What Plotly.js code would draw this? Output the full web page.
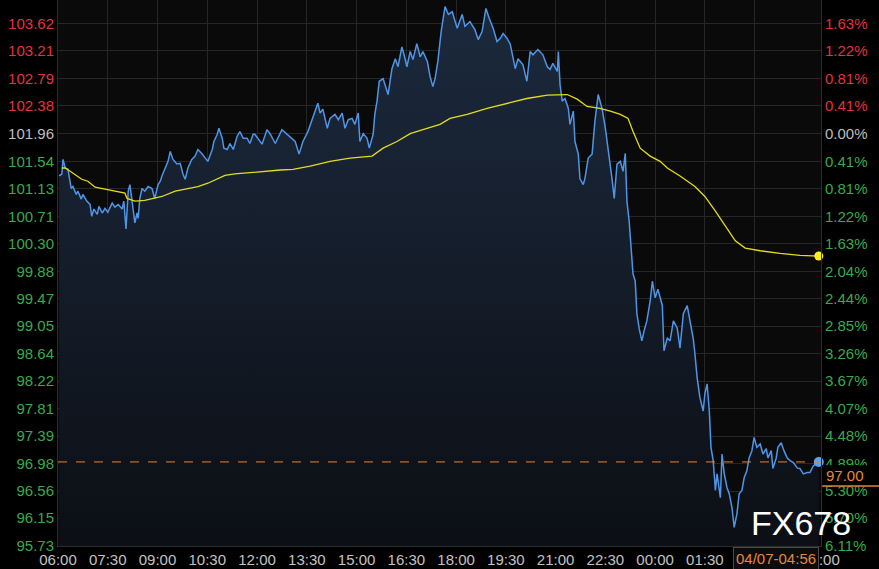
<!DOCTYPE html>
<html><head><meta charset="utf-8">
<script src="https://cdn.plot.ly/plotly-3.0.1.min.js"></script>
<style>html,body{margin:0;padding:0;background:#000;}#chart{width:879px;height:569px;}</style>
</head><body><div id="chart"></div>
<script>
// minutes elapsed since 06:00
const priceMinutes = [2,7,9,13,18,24,27,33,36,42,45,52,58,61,65,71,74,80,85,90,98,103,109,116,119,123,127,130,134,139,143,145,148,152,157,163,170,175,181,185,188,194,199,203,208,215,221,226,230,235,242,248,253,260,266,271,279,282,288,291,297,300,306,311,317,324,329,335,342,347,353,356,
369,378,384,393,405,414,423,429,436,443,452,461,470,474,479,487,492,501,507,514,519,525,532,537,543,546,552,559,563,570,573,577,581,588,593,597,604,610,615,622,626,631,637,642,649,655,660,668,673,678,682,687,693,696,700,
706,713,722,731,736,745,754,760,767,774,780,787,794,800,805,812,818,823,827,832,841,848,854,859,868,877,885,890,895,903,905,908,
912,917,923,926,932,935,941,944,950,953,959,966,971,977,984,990,995,1002,1006,1011,1017,1022,1026,1029,1033,1037,1040,1044,
1047,1051,1056,1060,1065,1071,1075,1080,1085,1093,1096,1102,1107,1113,1120,1125,1131,1138,1143,1149,1152,1156,1161,1167,1170,1174,1178,1181,1185,1189,1192,1198,1201,1205,1210,1214,1219,1223,1228,1232,1237,1241,1246,1250,1255,1259,1264,1270,1275,1281,1284,1290,1293,1299,1302,1308,1313,1319,1324,1330,1337,1342,1348,1355,1360,1366,1376];
const priceValues = [101.32,101.35,101.57,101.44,101.42,101.13,101.16,101.04,101.09,100.97,101.04,100.94,100.89,100.71,100.82,100.74,100.86,100.76,100.83,100.77,100.91,100.85,100.89,100.82,100.94,100.52,101.09,101.19,100.94,100.61,100.76,100.68,100.98,101.13,101.09,101.16,101.13,100.98,101.19,101.24,101.32,101.44,101.54,101.69,101.57,101.50,101.51,101.35,101.27,101.44,101.57,101.62,101.72,101.66,101.59,101.54,101.72,101.84,101.95,102.04,101.89,101.74,101.72,101.81,101.72,101.92,101.99,101.89,101.89,101.81,101.95,101.95,
101.80,102.02,101.95,101.81,102.02,101.95,101.89,101.84,101.65,101.84,101.99,102.19,102.42,102.27,102.33,102.04,102.19,102.25,102.17,102.27,102.04,102.17,102.19,102.10,102.27,101.84,101.96,101.89,101.74,101.95,102.25,102.45,102.75,102.79,102.64,102.55,102.94,103.09,102.97,103.27,103.15,102.97,103.20,103.08,103.32,103.12,103.20,103.05,102.82,102.67,102.79,103.05,103.50,103.70,103.88,
103.76,103.80,103.55,103.76,103.58,103.65,103.53,103.38,103.50,103.85,103.70,103.55,103.35,103.40,103.47,103.40,103.31,103.12,102.94,103.09,103.00,102.75,103.20,103.15,103.23,103.15,102.97,102.93,103.02,102.90,103.20,102.70,
102.45,102.49,102.34,102.10,102.30,101.84,101.65,101.28,101.19,101.28,101.59,101.65,102.14,102.55,102.34,102.04,101.74,101.28,100.98,101.50,101.54,101.39,101.66,100.94,100.64,100.14,99.84,99.73,
99.24,99.02,98.83,98.98,99.13,99.43,99.73,99.48,99.61,99.36,98.68,98.87,98.83,99.13,99.02,98.72,99.24,99.36,99.13,98.86,98.63,98.27,97.97,97.77,98.03,98.18,97.77,97.22,97.02,96.57,96.82,96.46,97.12,96.82,96.61,96.52,96.31,96.01,96.22,96.52,96.57,96.76,96.87,97.06,97.17,97.37,97.22,97.27,97.12,97.20,97.06,97.17,96.90,97.06,97.22,97.29,97.17,97.06,97.02,96.99,96.91,96.90,96.82,96.84,96.84,96.94,97.00];

const avgMinutes = [7,13,22,43,54,67,85,103,121,125,139,157,175,188,212,235,253,271,289,302,320,356,402,425,456,492,528,568,588,613,637,660,691,709,740,776,812,848,885,908,921,939,957,980,999,1017,1031,1040,1053,1071,1089,1102,1125,1152,1170,1189,1207,1225,1243,1270,1306,1342,1376];
const avgValues = [101.44,101.44,101.39,101.27,101.24,101.15,101.12,101.09,101.06,100.98,100.94,100.95,100.98,101.01,101.09,101.13,101.16,101.21,101.28,101.33,101.35,101.38,101.41,101.42,101.47,101.54,101.59,101.62,101.74,101.84,101.96,102.02,102.10,102.19,102.25,102.34,102.42,102.49,102.54,102.55,102.55,102.48,102.37,102.34,102.30,102.25,102.19,101.99,101.74,101.62,101.54,101.44,101.32,101.16,101.01,100.79,100.56,100.34,100.23,100.19,100.15,100.12,100.11];

// '03:00' sits under the time box in the reference, so its label is blank there
const xTickLabels = ['06:00','07:30','09:00','10:30','12:00','13:30','15:00','16:30','18:00','19:30','21:00','22:30','00:00','01:30','03:00','05:00'];
const hiddenTickLabels = ['03:00'];
const priceTickLabels = ['103.62','103.21','102.79','102.38','101.96','101.54','101.13','100.71','100.30','99.88','99.47','99.05','98.64','98.22','97.81','97.39','96.98','96.56','96.15','95.73'];
const pctTickLabels = ['1.63%','1.22%','0.81%','0.41%','0.00%','0.41%','0.81%','1.22%','1.63%','2.04%','2.44%','2.85%','3.26%','3.67%','4.07%','4.48%','4.89%','5.30%','5.70%','6.11%'];
const basePrice = 101.96;
const lastPrice = 97.00;
const lastTimeLabel = '04/07-04:56';
const watermark = 'FX678';

const RED = '#e2323d', GREEN = '#3aa94c', GREY = '#bdbdbd';
function colorFor(v){ return v > basePrice + 1e-6 ? RED : (v < basePrice - 1e-6 ? GREEN : GREY); }
const tickVals = priceTickLabels.map(Number);
const leftText = priceTickLabels.map((t,i)=>`<span style="color:${colorFor(tickVals[i])}">${t}</span>`);
const rightText = pctTickLabels.map((t,i)=>`<span style="color:${colorFor(tickVals[i])}">${t}</span>`);
const xTickVals = xTickLabels.map(t=>{const [h,m]=t.split(':').map(Number); return ((h*60+m)-360+1440)%1440;});
const xTickText = xTickLabels.map(t=>hiddenTickLabels.includes(t) ? '' : t);

const yMin = 95.73, yMax = 103.978;
const FONT = 'Liberation Sans, Arial, sans-serif';

const traces = [
  {x: priceMinutes, y: priceValues, type:'scatter', mode:'lines', fill:'tozeroy',
   fillgradient:{type:'vertical', start:yMin, stop:104.0, colorscale:[[0,'#0c0f15'],[1,'#1c2a3e']]},
   fillcolor:'#141c28',
   line:{color:'#4f95e6', width:1.5}, hoverinfo:'skip'},
  {x: avgMinutes, y: avgValues, type:'scatter', mode:'lines', line:{color:'#e3dc1c', width:1.3}, hoverinfo:'skip'},
  {x: [avgMinutes[avgMinutes.length-1]], y:[avgValues[avgValues.length-1]], type:'scatter', mode:'markers', marker:{color:'#fff01a', size:9}, cliponaxis:false},
  {x: [priceMinutes[priceMinutes.length-1]], y:[priceValues[priceValues.length-1]], type:'scatter', mode:'markers', marker:{color:'#5aa2f2', size:10}, cliponaxis:false},
  {x:[0], y:[lastPrice], yaxis:'y2', type:'scatter', mode:'markers', marker:{opacity:0}, hoverinfo:'skip'}
];

const layout = {
  width:879, height:569,
  margin:{l:58, r:58, t:0, b:23, pad:0},
  paper_bgcolor:'#000', plot_bgcolor:'#0a0a0a',
  showlegend:false,
  font:{family:FONT, size:15, color:GREY},
  xaxis:{range:[0,1380], tickvals:xTickVals, ticktext:xTickText, showgrid:true, gridcolor:'#262626', gridwidth:1,
         zeroline:false, showline:true, linecolor:'#2c2c2c', ticks:'', tickfont:{family:FONT, size:15, color:'#c2c2c2'}, fixedrange:true},
  yaxis:{range:[yMin,yMax], tickvals:tickVals, ticktext:leftText, showgrid:true, gridcolor:'#262626', gridwidth:1,
         zeroline:false, showline:true, linecolor:'#2c2c2c', ticks:'', tickfont:{family:FONT, size:15}},
  yaxis2:{range:[yMin,yMax], overlaying:'y', side:'right', tickvals:tickVals, ticktext:rightText, showgrid:false,
          zeroline:false, showline:true, linecolor:'#2c2c2c', ticks:'', tickfont:{family:FONT, size:15}},
  shapes:[
    {type:'line', xref:'paper', x0:0, x1:1, yref:'y', y0:lastPrice, y1:lastPrice, line:{color:'#e0843a', width:1, dash:'dash'}, layer:'above'},
    {type:'rect', xref:'paper', x0:1.0015, x1:1.08, yref:'paper', y0:0.110, y1:0.148, fillcolor:'#000', line:{width:0}, layer:'above'},
    {type:'line', xref:'paper', x0:1.0015, x1:1.08, yref:'paper', y0:0.110, y1:0.110, line:{color:'#e0843a', width:1.5}, layer:'above'}
  ],
  annotations:[
    {xref:'paper', yref:'paper', x:1.004, y:0.130, xanchor:'left', yanchor:'middle', text:lastPrice.toFixed(2), showarrow:false,
     font:{family:FONT, size:15, color:'#e5873c'}},
    {xref:'x', yref:'paper', x:1376, y:-0.022, xanchor:'right', yanchor:'middle', text:lastTimeLabel, showarrow:false,
     bgcolor:'#0c0c0c', bordercolor:'#4a4a4a', borderwidth:1, borderpad:2, font:{family:FONT, size:15, color:'#e5873c'}},
    {xref:'paper', yref:'paper', x:0.905, y:0.004, xanchor:'left', yanchor:'bottom', text:watermark, showarrow:false,
     font:{family:FONT, size:34, color:'#ffffff'}}
  ]
};
Plotly.newPlot('chart', traces, layout, {staticPlot:true, displayModeBar:false});
</script>
</body></html>
